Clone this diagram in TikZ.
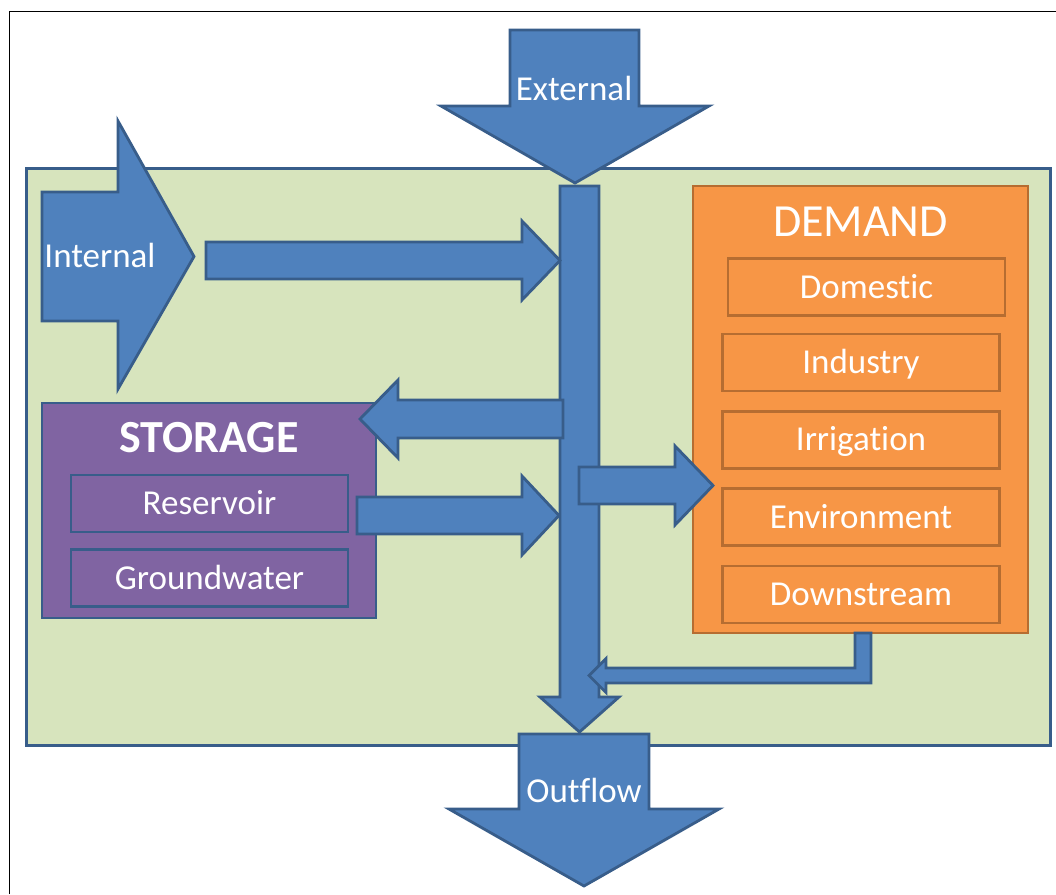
\documentclass[tikz,border=0pt]{standalone}
\usepackage{fontspec}
\setmainfont{Carlito}[Ligatures=NoCommon]
\usetikzlibrary{positioning}

\definecolor{flowblue}{HTML}{4F81BD}
\definecolor{flowline}{HTML}{385D8A}
\definecolor{basinfill}{HTML}{D7E4BD}
\definecolor{storefill}{HTML}{8064A2}
\definecolor{demandfill}{HTML}{F79646}
\definecolor{demandline}{HTML}{B66D31}

\begin{document}
\begin{tikzpicture}[x=1pt, y=-1pt]
\tikzset{
  flow/.style={fill=flowblue, draw=flowline, line width=2.8pt, line join=miter},
  flowtext/.style={text=white, font=\fontsize{35}{40}\selectfont, inner sep=0pt},
  bigbox/.style={line width=2.8pt, inner sep=0pt},
  subbox/.style={line width=2.8pt, minimum width=277pt, minimum height=57pt,
    text=white, font=\fontsize{35}{40}\selectfont, text height=22pt, text depth=0pt},
  substore/.style={subbox, draw=flowline, fill=storefill},
  subdemand/.style={subbox, draw=demandline, fill=demandfill},
  node distance=17.5pt
}
\useasboundingbox (0,0) rectangle (1056,894);
\draw[line width=1pt] (9.5,894) -- (9.5,11) -- (1056,11);

\node[bigbox, draw=flowline, fill=basinfill, line width=3pt,
  minimum width=1024pt, minimum height=577pt] (basin) at (538,456.5) {};

\draw[flow] (42,192) -- (118,192) -- (118,121) -- (194,256.5) -- (118,389)
  -- (118,321) -- (42,321) -- cycle;
\node[flowtext, anchor=base] (internal) at (100,267) {Internal};

\node[bigbox, draw=demandline, fill=demandfill,
  minimum width=335pt, minimum height=447pt] (demand) at (860.5,409.5) {};
\node[text=white, font=\fontsize{46}{50}\selectfont, anchor=base] (demandtitle)
  at ([yshift=-52pt]demand.north) {DEMAND};
\node[subdemand] (domestic) at (866.5,287) {Domestic};
\node[subdemand] (industry) at (861,362.5) {Industry};
\node[subdemand, below=of industry] (irrigation) {Irrigation};
\node[subdemand, below=of irrigation] (environment) {Environment};
\node[subdemand, below=of environment] (downstream) {Downstream};

\node[bigbox, draw=flowline, fill=storefill,
  minimum width=334pt, minimum height=215pt] (storage) at (209,510.5) {};
\node[text=white, font=\bfseries\fontsize{46}{50}\selectfont, anchor=base] (storetitle)
  at ([yshift=-51pt]storage.north) {STORAGE};
\node[substore] (reservoir) at (209.5,503.5) {Reservoir};
\node[substore] (groundwater) at (209.5,578) {Groundwater};

\draw[flow] (560,186) -- (599,186) -- (599,697) -- (619,697) -- (579.5,732)
  -- (540,697) -- (560,697) -- cycle;

\draw[flow] (206,242) -- (522,242) -- (522,221) -- (560,260.5) -- (522,300)
  -- (522,279) -- (206,279) -- cycle;
\draw[flow] (563,400) -- (398,400) -- (398,380) -- (360,419) -- (398,458)
  -- (398,438) -- (563,438) -- cycle;
\draw[flow] (357,497) -- (522,497) -- (522,476) -- (559,515.5) -- (522,555)
  -- (522,534) -- (357,534) -- cycle;
\draw[flow] (579,467) -- (675,467) -- (675,446) -- (713,485.5) -- (675,525)
  -- (675,504) -- (579,504) -- cycle;
\draw[flow] (855,633) -- (871,633) -- (871,683) -- (606,683) -- (606,692.5)
  -- (589,675.5) -- (606,658.5) -- (606,668) -- (855,668) -- cycle;

\draw[flow] (510,30) -- (639,30) -- (639,106) -- (709,106) -- (575,183)
  -- (441,106) -- (510,106) -- cycle;
\node[flowtext, anchor=base] (external) at (574,100) {External};

\draw[flow] (519,734) -- (649,734) -- (649,809) -- (719,809) -- (584,886)
  -- (449,809) -- (519,809) -- cycle;
\node[flowtext, anchor=base] (outflow) at (584,802) {Outflow};
\end{tikzpicture}
\end{document}
